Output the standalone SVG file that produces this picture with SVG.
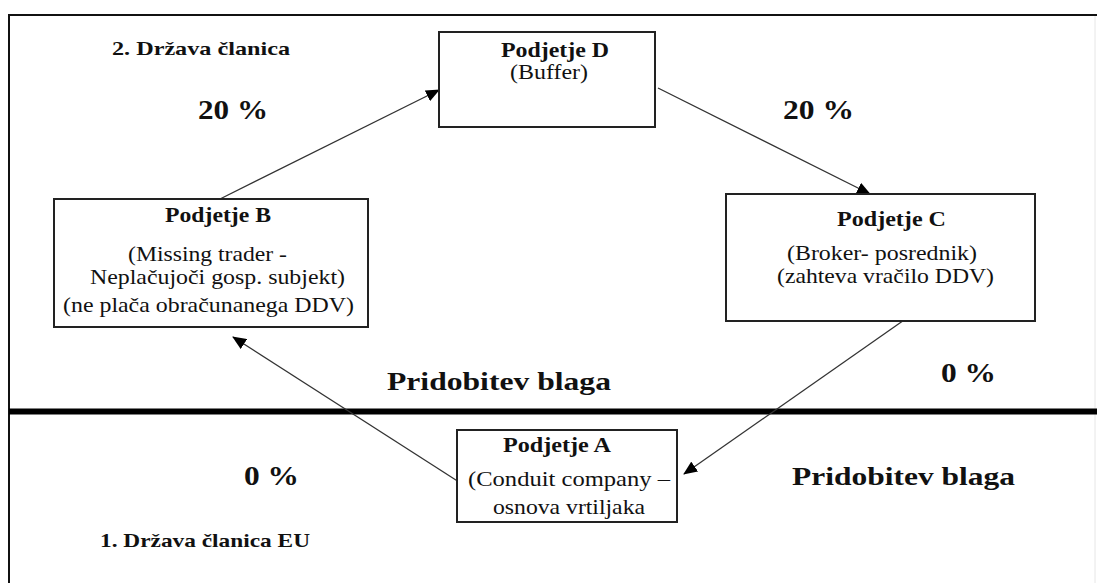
<svg xmlns="http://www.w3.org/2000/svg" width="1097" height="583" viewBox="0 0 1097 583">
<style>
.t{font-family:"Liberation Serif","Times New Roman",serif;fill:#111}
.b{font-weight:bold}
.n{font-size:21px}
.h{font-size:21px;font-weight:bold}
.box{fill:#fff;stroke:#222;stroke-width:2}
.con{stroke:#333;stroke-width:1.3;fill:none}
</style>
<defs>
<marker id="ah" markerWidth="14" markerHeight="12" refX="13" refY="6" orient="auto" markerUnits="userSpaceOnUse">
<path d="M0,0 L14,6 L0,12 z" fill="#000"/>
</marker>
</defs>
<rect x="0" y="0" width="1097" height="583" fill="#fff"/>
<g id="frame">
<line x1="9" y1="15" x2="1097" y2="15" stroke="#111" stroke-width="2"/>
<line x1="9" y1="14" x2="9" y2="583" stroke="#111" stroke-width="2"/>
<line x1="1095" y1="16" x2="1095" y2="583" stroke="#e6e6e6" stroke-width="1"/>
<line x1="9" y1="411.5" x2="1097" y2="411.5" stroke="#000" stroke-width="6"/>
</g>
<g id="connectors">
<line class="con" x1="220" y1="199" x2="439" y2="90" marker-end="url(#ah)"/>
<line class="con" x1="658" y1="88" x2="870" y2="194" marker-end="url(#ah)"/>
<line class="con" x1="907" y1="318" x2="684" y2="474" marker-end="url(#ah)"/>
<line class="con" x1="459" y1="482" x2="233" y2="337" marker-end="url(#ah)"/>
</g>
<g id="nodeD">
<rect class="box" x="439" y="32" width="216" height="95"/>
<text class="t h" x="501" y="57" textLength="108" lengthAdjust="spacingAndGlyphs">Podjetje D</text>
<text class="t n" x="510" y="79" textLength="78" lengthAdjust="spacingAndGlyphs">(Buffer)</text>
</g>
<g id="nodeB">
<rect class="box" x="54" y="199" width="314" height="128"/>
<text class="t h" x="165" y="222" textLength="106" lengthAdjust="spacingAndGlyphs">Podjetje B</text>
<text class="t n" x="128" y="261" textLength="159" lengthAdjust="spacingAndGlyphs">(Missing trader -</text>
<text class="t n" x="90" y="284" textLength="255" lengthAdjust="spacingAndGlyphs">Neplačujoči gosp. subjekt)</text>
<text class="t n" x="63" y="312" textLength="291" lengthAdjust="spacingAndGlyphs">(ne plača obračunanega DDV)</text>
</g>
<g id="nodeC">
<rect class="box" x="726" y="194" width="309" height="127"/>
<text class="t h" x="837" y="226" textLength="109" lengthAdjust="spacingAndGlyphs">Podjetje C</text>
<text class="t n" x="787" y="260" textLength="190" lengthAdjust="spacingAndGlyphs">(Broker- posrednik)</text>
<text class="t n" x="777" y="283" textLength="217" lengthAdjust="spacingAndGlyphs">(zahteva vračilo DDV)</text>
</g>
<g id="nodeA">
<rect class="box" x="457" y="430" width="220" height="92"/>
<text class="t h" x="503" y="452" textLength="108" lengthAdjust="spacingAndGlyphs">Podjetje A</text>
<text class="t n" x="468" y="486" textLength="202" lengthAdjust="spacingAndGlyphs">(Conduit company –</text>
<text class="t n" x="493" y="514" textLength="152" lengthAdjust="spacingAndGlyphs">osnova vrtiljaka</text>
</g>
<g id="labels">
<text class="t b" x="112" y="55" font-size="19" textLength="178" lengthAdjust="spacingAndGlyphs">2. Država članica</text>
<text class="t b" x="198" y="119" font-size="27" textLength="70" lengthAdjust="spacingAndGlyphs">20 %</text>
<text class="t b" x="783" y="119" font-size="27" textLength="71" lengthAdjust="spacingAndGlyphs">20 %</text>
<text class="t b" x="941" y="382" font-size="27" textLength="55" lengthAdjust="spacingAndGlyphs">0 %</text>
<text class="t b" x="244" y="485" font-size="27" textLength="55" lengthAdjust="spacingAndGlyphs">0 %</text>
<text class="t b" x="387" y="390" font-size="25" textLength="224" lengthAdjust="spacingAndGlyphs">Pridobitev blaga</text>
<text class="t b" x="792" y="485" font-size="25" textLength="223" lengthAdjust="spacingAndGlyphs">Pridobitev blaga</text>
<text class="t b" x="100" y="547" font-size="19" textLength="210" lengthAdjust="spacingAndGlyphs">1. Država članica EU</text>
</g>
</svg>
